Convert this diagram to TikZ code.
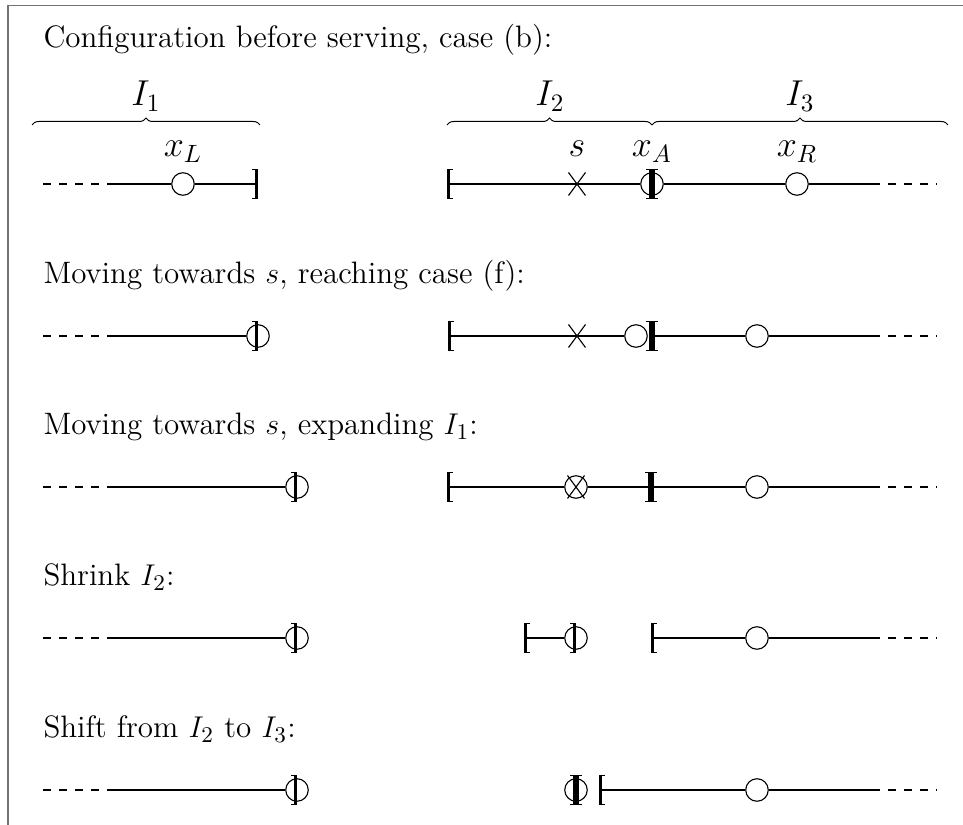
\documentclass[tikz,border=0pt]{standalone}
\usetikzlibrary{decorations.pathreplacing}
\begin{document}
\begin{tikzpicture}[x=0.4pt,y=-0.4pt,
  ln/.style={line width=0.45pt},
  dsh/.style={line width=0.45pt, dash pattern=on 3.2pt off 3.2pt},
  dot/.style={circle, draw, line width=0.45pt, fill=white, minimum size=9pt, inner sep=0pt},
  ttl/.style={anchor=base west, inner sep=0pt, font=\fontsize{12.4}{15}\selectfont},
  lab/.style={anchor=base, inner sep=0pt, font=\Large},
  brc/.style={line width=0.4pt, decorate, decoration={brace, amplitude=2.8pt}},
  frm/.style={draw=black!55, line width=0.6pt},
  lbr/.pic={\fill (0,-15) rectangle (2.6,15); \fill (0,-15) rectangle (6,-13.8); \fill (0,15) rectangle (6,13.8);},
  rbr/.pic={\fill (-2.6,-15) rectangle (0,15); \fill (-6,-15) rectangle (0,-13.8); \fill (-6,15) rectangle (0,13.8);},
  crs/.pic={\draw[line width=0.45pt] (-8.5,-11.5) -- (8.5,11.5) (-8.5,11.5) -- (8.5,-11.5);}
]
\useasboundingbox (0,0) rectangle (963,825);
\draw[frm] (8,825) -- (8,5.5) -- (963,5.5);

% ---------- Row 1 ----------
\node[ttl] (t1) at (43,48) {Configuration before serving, case (b):};
\coordinate (b1a) at (32,125); \coordinate (b1b) at (260,125);
\coordinate (b2a) at (447,125); \coordinate (b2b) at (652,125);
\coordinate (b3b) at (948,125);
\draw[brc] (b1a) -- (b1b);
\draw[brc] (b2a) -- (b2b);
\draw[brc] (b2b) -- (b3b);
\node[lab] (I1) at (146,106) {$I_1$};
\node[lab] (I2) at (550,106) {$I_2$};
\node[lab] (I3) at (800,106) {$I_3$};
\node[lab] (lxL) at (183,157) {$x_L$};
\node[lab] (ls) at (577,157) {$s$};
\node[lab] (lxA) at (652,157) {$x_A$};
\node[lab] (lxR) at (797,157) {$x_R$};

\coordinate (r1d) at (43,184); \coordinate (r1s) at (107,184);
\coordinate (r1e) at (258,184);
\node[dot] (r1xL) at (183,184) {};
\draw[dsh] (r1d) -- (r1s);
\draw[ln] (r1s) -- (r1xL) -- (r1e);
\pic at (r1e) {rbr};

\coordinate (r1l) at (447,184); \coordinate (r1x) at (577,184);
\node[dot] (r1xA) at (652,184) {};
\node[dot] (r1xR) at (797,184) {};
\coordinate (r1f) at (872,184); \coordinate (r1g) at (937,184);
\draw[ln] (r1l) -- (r1x) -- (r1xA) -- (r1xR) -- (r1f);
\draw[dsh] (r1f) -- (r1g);
\pic at (r1l) {lbr};
\pic at (r1x) {crs};
\pic at (r1xA) {rbr};
\pic at (r1xA) {lbr};

% ---------- Row 2 ----------
\node[ttl] (t2) at (43,284) {Moving towards $s$, reaching case (f):};
\coordinate (r2d) at (43,336); \coordinate (r2s) at (107,336);
\node[dot] (r2c) at (258,336) {};
\draw[dsh] (r2d) -- (r2s);
\draw[ln] (r2s) -- (r2c);
\pic at (r2c) {rbr};

\coordinate (r2l) at (448,336); \coordinate (r2x) at (577,336);
\node[dot] (r2a) at (636,336) {};
\coordinate (r2m) at (652,336);
\node[dot] (r2r) at (757,336) {};
\coordinate (r2f) at (872,336); \coordinate (r2g) at (937,336);
\draw[ln] (r2l) -- (r2x) -- (r2a);
\draw[ln] (r2m) -- (r2r) -- (r2f);
\draw[dsh] (r2f) -- (r2g);
\pic at (r2l) {lbr};
\pic at (r2x) {crs};
\pic at (r2m) {rbr};
\pic at (r2m) {lbr};

% ---------- Row 3 ----------
\node[ttl] (t3) at (43,435) {Moving towards $s$, expanding $I_1$:};
\coordinate (r3d) at (43,487); \coordinate (r3s) at (107,487);
\node[dot] (r3c) at (297,487) {};
\draw[dsh] (r3d) -- (r3s);
\draw[ln] (r3s) -- (r3c);
\pic at (r3c) {rbr};

\coordinate (r3l) at (447,487);
\node[dot] (r3o) at (576,487) {};
\coordinate (r3m) at (651,487);
\node[dot] (r3r) at (757,487) {};
\coordinate (r3f) at (872,487); \coordinate (r3g) at (937,487);
\draw[ln] (r3l) -- (r3o) -- (r3m) -- (r3r) -- (r3f);
\draw[dsh] (r3f) -- (r3g);
\pic at (r3l) {lbr};
\pic at (r3o) {crs};
\pic at (r3m) {rbr};
\pic at (r3m) {lbr};

% ---------- Row 4 ----------
\node[ttl] (t4) at (43,586) {Shrink $I_2$:};
\coordinate (r4d) at (43,638); \coordinate (r4s) at (107,638);
\node[dot] (r4c) at (297,638) {};
\draw[dsh] (r4d) -- (r4s);
\draw[ln] (r4s) -- (r4c);
\pic at (r4c) {rbr};

\coordinate (r4l) at (524,638);
\node[dot] (r4o) at (576,638) {};
\draw[ln] (r4l) -- (r4o);
\pic at (r4l) {lbr};
\pic at (r4o) {rbr};

\coordinate (r4k) at (651,638);
\node[dot] (r4r) at (757,638) {};
\coordinate (r4f) at (872,638); \coordinate (r4g) at (937,638);
\draw[ln] (r4k) -- (r4r) -- (r4f);
\draw[dsh] (r4f) -- (r4g);
\pic at (r4k) {lbr};

% ---------- Row 5 ----------
\node[ttl] (t5) at (43,738) {Shift from $I_2$ to $I_3$:};
\coordinate (r5d) at (43,790); \coordinate (r5s) at (107,790);
\node[dot] (r5c) at (297,790) {};
\draw[dsh] (r5d) -- (r5s);
\draw[ln] (r5s) -- (r5c);
\pic at (r5c) {rbr};

\node[dot] (r5o) at (576,790) {};
\pic at (r5o) {rbr};
\pic at (r5o) {lbr};

\coordinate (r5k) at (599,790);
\node[dot] (r5r) at (757,790) {};
\coordinate (r5f) at (872,790); \coordinate (r5g) at (937,790);
\draw[ln] (r5k) -- (r5r) -- (r5f);
\draw[dsh] (r5f) -- (r5g);
\pic at (r5k) {lbr};
\end{tikzpicture}
\end{document}
